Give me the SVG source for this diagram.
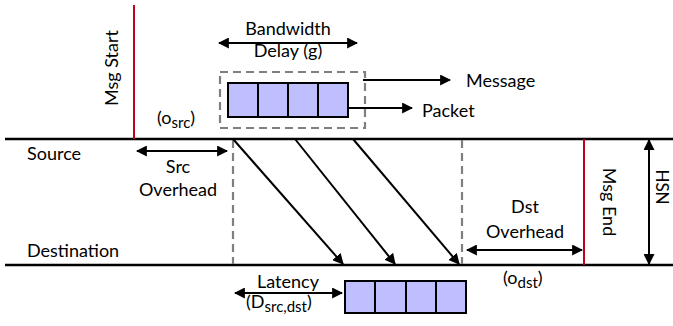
<svg xmlns="http://www.w3.org/2000/svg" width="673" height="326" viewBox="0 0 673 326">
  <defs>
    <marker id="ah" viewBox="0 0 10 10" refX="9" refY="5" markerWidth="5.5" markerHeight="5.5" orient="auto-start-reverse" markerUnits="strokeWidth">
      <path d="M0,0 L10,5 L0,10 z" fill="#000"/>
    </marker>
    <style>
      text { font-family: Lato, "Open Sans", sans-serif; font-size: 18px; fill: #000; }
      .mid { text-anchor: middle; }
      .sub { font-size: 15px; }
      .line { stroke: #000; stroke-width: 2.4; fill: none; }
      .arr { stroke: #000; stroke-width: 2; fill: none; marker-end: url(#ah); }
      .dbl { stroke: #000; stroke-width: 2; fill: none; marker-start: url(#ah); marker-end: url(#ah); }
      .dash { stroke: #7F7F7F; stroke-width: 2.2; stroke-dasharray: 8 5; fill: none; }
      .red { stroke: #C0001E; stroke-width: 2; }
      .cell { fill: #BFBFFF; stroke: #000; stroke-width: 2; }
    </style>
  </defs>

  <!-- timelines -->
  <g id="source">
    <line class="line" x1="5" y1="139" x2="673" y2="139"/>
    <text x="27" y="160">Source</text>
  </g>
  <g id="destination">
    <line class="line" x1="5" y1="265" x2="673" y2="265"/>
    <text x="27" y="257">Destination</text>
  </g>

  <!-- message start / end markers -->
  <g id="msg-start">
    <line class="red" x1="134" y1="5" x2="134" y2="139"/>
    <text class="mid" transform="translate(118,68) rotate(-90)">Msg Start</text>
  </g>
  <g id="msg-end">
    <line class="red" x1="584" y1="139" x2="584" y2="265"/>
    <text class="mid" transform="translate(603,202) rotate(90)">Msg End</text>
  </g>

  <!-- message of four packets at the source -->
  <g id="message">
    <rect class="dash" x="220" y="72" width="145" height="56"/>
    <rect class="cell" x="228" y="83" width="30" height="34"/>
    <rect class="cell" x="258" y="83" width="30" height="34"/>
    <rect class="cell" x="288" y="83" width="30" height="34"/>
    <rect class="cell" x="318" y="83" width="30" height="34"/>
  </g>

  <!-- received packets at the destination -->
  <g id="received">
    <rect class="cell" x="345" y="281" width="30" height="32"/>
    <rect class="cell" x="375" y="281" width="31" height="32"/>
    <rect class="cell" x="406" y="281" width="30" height="32"/>
    <rect class="cell" x="436" y="281" width="30" height="32"/>
  </g>

  <g id="labels">
    <text class="mid" x="288" y="35">Bandwidth</text>
    <text class="mid" x="288" y="57">Delay (g)</text>
    <text x="466" y="87">Message</text>
    <text x="422" y="117">Packet</text>
    <text x="157" y="124">(o<tspan class="sub" dy="4">src</tspan><tspan dy="-4">)</tspan></text>
    <text class="mid" x="178" y="173">Src</text>
    <text class="mid" x="178" y="196">Overhead</text>
    <text class="mid" x="525" y="213">Dst</text>
    <text class="mid" x="525" y="238">Overhead</text>
    <text x="503" y="284">(o<tspan class="sub" dy="4">dst</tspan><tspan dy="-4">)</tspan></text>
    <text class="mid" x="288" y="288">Latency</text>
    <text x="246" y="308">(D<tspan class="sub" dy="4">src,dst</tspan><tspan dy="-4">)</tspan></text>
    <text class="mid" style="font-size:17px" transform="translate(656,187) rotate(90)">HSN</text>
  </g>

  <!-- connectors -->
  <g id="connectors">
    <line class="dash" x1="233" y1="140" x2="233" y2="264"/>
    <line class="dash" x1="462" y1="140" x2="462" y2="264"/>
    <line class="dbl" x1="219" y1="43" x2="357" y2="43"/>
    <line class="arr" x1="363" y1="80" x2="450" y2="80"/>
    <line class="arr" x1="348" y1="108" x2="412" y2="108"/>
    <line class="dbl" x1="137" y1="151" x2="227" y2="151"/>
    <line class="dbl" x1="467" y1="250" x2="582" y2="250"/>
    <line class="dbl" x1="235" y1="293" x2="342" y2="293"/>
    <line class="dbl" x1="649" y1="140" x2="649" y2="264"/>
    <line class="arr" x1="233" y1="139" x2="343" y2="264"/>
    <line class="arr" x1="295" y1="139" x2="395" y2="264"/>
    <line class="arr" x1="353" y1="139" x2="459" y2="264"/>
  </g>
</svg>
